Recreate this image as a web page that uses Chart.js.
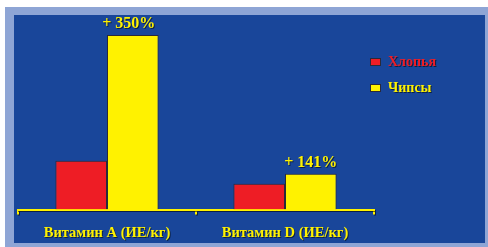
<!DOCTYPE html>
<html>
<head>
<meta charset="utf-8">
<script src="https://cdn.jsdelivr.net/npm/chart.js@4"></script>
<style>
    body { margin: 0; background: #fff; width: 488px; height: 247px; overflow: hidden; position: relative; }
    #frame { position: absolute; left: 5px; top: 7px; width: 483px; height: 240px; background: #8ea5d5; }
    #panel { position: absolute; left: 14px; top: 15px; width: 471px; height: 228px; background: #19469a; }
    #wrap { position: absolute; left: 0; top: 0; width: 488px; height: 247px; }
    #legend { position: absolute; left: 370px; top: 49px; font: bold 14px "Liberation Serif", serif; }
    #legend div { height: 26px; display: flex; align-items: center; }
    #legend span.box { width: 9px; height: 6px; border: 1px solid #2a2a3a; margin-right: 7px; }
    #legend span.txt { text-shadow: 1px 1px 0 rgba(0,0,0,0.55); }
</style>
</head>
<body>
<div id="frame"></div>
<div id="panel"></div>
<div id="wrap"><canvas id="chart" width="488" height="247"></canvas></div>
<div id="legend"></div>
<script>
    const categories = ['Витамин A (ИЕ/кг)', 'Витамин D (ИЕ/кг)'];
    const seriesNames = ['Хлопья', 'Чипсы'];
    const flakes = [4.9, 2.6];
    const chips = [17.5, 3.6];
    const increaseLabels = ['+ 350%', '+ 141%'];
    const colors = ['#ee1d25', '#fff200'];

    const legend = document.getElementById('legend');
    seriesNames.forEach((name, i) => {
        const row = document.createElement('div');
        row.innerHTML = `<span class="box" style="background:${colors[i]}"></span><span class="txt" style="color:${colors[i]}">${name}</span>`;
        legend.appendChild(row);
    });

    // dark drop shadow on axis + tick labels only (reset before bars)
    const shadowScales = {
        id: 'shadowScales',
        beforeDraw(chart) {
            const ctx = chart.ctx;
            ctx.shadowColor = 'rgba(0,0,0,0.55)';
            ctx.shadowOffsetX = 1;
            ctx.shadowOffsetY = 1;
            ctx.shadowBlur = 0;
        },
        beforeDatasetsDraw(chart) {
            const ctx = chart.ctx;
            ctx.shadowColor = 'transparent';
            ctx.shadowOffsetX = 0;
            ctx.shadowOffsetY = 0;
        }
    };

    const increaseText = {
        id: 'increaseText',
        afterDatasetsDraw(chart) {
            const ctx = chart.ctx;
            const meta = chart.getDatasetMeta(1);
            ctx.save();
            ctx.font = 'bold 16px "Liberation Serif", serif';
            ctx.fillStyle = '#fff200';
            ctx.textAlign = 'center';
            ctx.textBaseline = 'bottom';
            ctx.shadowColor = 'rgba(0,0,0,0.55)';
            ctx.shadowOffsetX = 1;
            ctx.shadowOffsetY = 1;
            meta.data.forEach((bar, i) => {
                ctx.fillText(increaseLabels[i], bar.x - (i === 0 ? 4 : 0), bar.y - 3);
            });
            ctx.restore();
        }
    };

    new Chart(document.getElementById('chart'), {
        type: 'bar',
        data: {
            labels: categories,
            datasets: [
                { label: seriesNames[0], data: flakes, backgroundColor: colors[0] },
                { label: seriesNames[1], data: chips, backgroundColor: colors[1] },
            ]
        },
        options: {
            responsive: false,
            animation: false,
            events: [],
            layout: { padding: { left: 18, right: 114, top: 20, bottom: -5 } },
            datasets: {
                bar: {
                    categoryPercentage: 0.58,
                    barPercentage: 1,
                    borderColor: '#2a2a3a',
                    borderWidth: 1,
                    borderSkipped: 'bottom',
                }
            },
            plugins: {
                legend: { display: false },
                tooltip: { enabled: false },
            },
            scales: {
                x: {
                    grid: {
                        offset: true,
                        drawOnChartArea: false,
                        color: '#fff200',
                        lineWidth: 2,
                        tickLength: 5,
                    },
                    border: { color: '#fff200', width: 2 },
                    ticks: {
                        color: '#fff200',
                        padding: 10,
                        font: { family: '"Liberation Serif", serif', size: 14.5, weight: 'bold' },
                    }
                },
                y: { display: false, min: 0, max: 19 }
            }
        },
        plugins: [shadowScales, increaseText]
    });
</script>
</body>
</html>
